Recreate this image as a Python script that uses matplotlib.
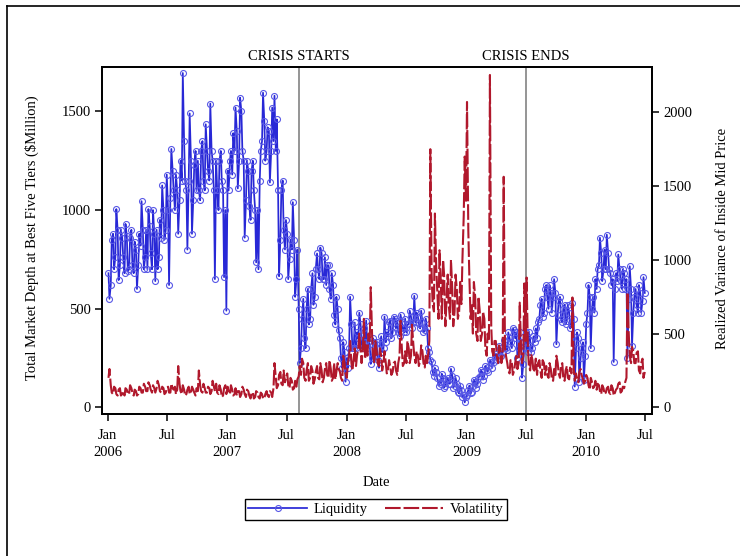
import matplotlib
matplotlib.use('Agg')
import matplotlib.pyplot as plt
from matplotlib.lines import Line2D
import pandas as pd

# ---------------- data: readings on Fridays (fri) and the preceding Tuesdays (mid) ----------------
liq_fri_2006 = [550, 850, 700, 1005, 645, 900, 760, 930, 690, 860, 720, 840, 600,
                880, 1045, 700, 900, 1005, 780, 1000, 640, 700, 950, 1125, 850, 1180,
                620, 1310, 1100, 1180, 880, 1250, 1695, 1150, 800, 1490, 880, 1230, 1100,
                1100, 1300, 1150, 1435, 1200, 1540, 1250, 650, 1100, 1250, 1150, 660, 490]
liq_mid_2006 = [680, 620, 880, 760, 900, 720, 860, 680, 870, 700, 900, 680, 800,
                720, 820, 900, 760, 700, 920, 700, 880, 900, 760, 860, 1000, 900,
                1000, 1060, 1200, 1000, 1100, 1050, 1150, 1350, 1100, 1150, 1250, 1050, 1300,
                1250, 1050, 1350, 1100, 1300, 1150, 1300, 1100, 1250, 1000, 1300, 1100, 1000]
liq_fri_2007 = [1100, 1300, 1390, 1520, 1110, 1570, 1300, 860, 1250, 1020, 1200, 1100, 735,
                700, 1300, 1595, 1250, 1420, 1140, 1520, 1580, 1460, 665, 1100, 900, 950,
                650, 850, 1040, 560, 800, 225, 450, 350, 500, 420, 600, 520, 700,
                700, 810, 650, 760, 720, 600, 680, 470, 560, 390, 250, 330, 130]
liq_mid_2007 = [1200, 1250, 1180, 1300, 1400, 1250, 1500, 1250, 1050, 1200, 950, 1250, 1000,
                1000, 1150, 1350, 1450, 1300, 1400, 1300, 1350, 1300, 1100, 850, 1150, 800,
                880, 750, 800, 850, 650, 500, 300, 550, 300, 600, 450, 680, 560,
                780, 650, 780, 650, 620, 720, 550, 620, 420, 500, 350, 200, 280]
liq_fri_2008 = [200, 560, 300, 430, 380, 480, 300, 400, 440, 330, 220, 350, 260,
                240, 320, 280, 460, 380, 430, 350, 460, 400, 380, 470, 400, 450,
                420, 490, 400, 565, 480, 420, 490, 380, 450, 300, 240, 180, 200,
                150, 130, 170, 100, 140, 120, 195, 100, 150, 80, 110, 50, 25]
liq_mid_2008 = [250, 300, 420, 300, 300, 350, 420, 300, 330, 300, 320, 250, 330,
                330, 200, 360, 300, 330, 360, 440, 380, 450, 440, 360, 430, 380,
                380, 420, 460, 430, 430, 460, 400, 430, 390, 400, 280, 230, 160,
                180, 110, 120, 150, 110, 150, 120, 160, 110, 120, 70, 90, 60]
liq_fri_2009 = [60, 110, 80, 140, 100, 150, 190, 140, 210, 180, 240, 200, 260,
                240, 310, 260, 340, 300, 380, 330, 400, 350, 250, 380, 150, 330,
                300, 380, 280, 360, 400, 430, 520, 460, 600, 560, 620, 480, 650,
                320, 540, 450, 500, 420, 520, 400, 530, 105, 380, 130, 300, 140]
liq_mid_2009 = [50, 90, 70, 110, 130, 120, 160, 180, 160, 190, 210, 230, 230,
                270, 250, 300, 280, 330, 290, 350, 300, 390, 380, 300, 330, 220,
                380, 280, 340, 300, 330, 350, 450, 550, 480, 620, 500, 580, 560,
                580, 470, 560, 430, 520, 440, 480, 420, 450, 300, 350, 250, 330]
liq_fri_2010 = [420, 620, 300, 560, 650, 700, 860, 640, 800, 875, 700, 620, 230,
                680, 775, 640, 700, 600, 250, 715, 310, 560, 520, 620, 480, 660]
liq_mid_2010 = [260, 480, 560, 500, 480, 600, 720, 780, 700, 700, 780, 680, 650,
                600, 640, 700, 600, 680, 650, 550, 600, 480, 600, 480, 580, 540, 580]

vol_fri_2006 = [260, 100, 140, 90, 120, 80, 110, 130, 90, 150, 100, 120, 80,
                140, 100, 160, 110, 170, 120, 150, 100, 180, 110, 140, 90, 130,
                100, 160, 120, 90, 280, 110, 150, 80, 120, 90, 140, 100, 130,
                250, 110, 160, 100, 140, 90, 180, 110, 100, 150, 70, 130, 90]
vol_mid_2006 = [200, 150, 90, 130, 80, 130, 90, 80, 120, 90, 130, 80, 110,
                90, 130, 100, 140, 110, 150, 100, 130, 130, 150, 100, 130, 100,
                140, 100, 130, 140, 120, 160, 90, 120, 90, 140, 100, 120, 80,
                110, 150, 100, 130, 100, 130, 110, 140, 160, 90, 120, 80, 150]
vol_fri_2007 = [100, 150, 80, 130, 110, 70, 140, 90, 120, 80, 100, 60, 110,
                70, 100, 60, 90, 80, 110, 70, 300, 130, 220, 160, 250, 200,
                150, 200, 120, 180, 190, 280, 330, 200, 250, 180, 280, 160, 240,
                200, 300, 170, 260, 220, 320, 180, 300, 240, 260, 200, 350, 230]
vol_mid_2007 = [140, 90, 120, 90, 80, 110, 90, 120, 70, 110, 60, 100, 70,
                100, 60, 90, 60, 110, 70, 100, 130, 200, 150, 240, 150, 170,
                230, 130, 180, 130, 140, 210, 220, 300, 180, 300, 200, 250, 190,
                280, 190, 250, 200, 300, 200, 260, 200, 190, 300, 240, 180, 300]
vol_fri_2008 = [300, 450, 250, 400, 350, 500, 300, 600, 420, 500, 815, 350, 450,
                300, 400, 250, 380, 230, 320, 220, 300, 250, 300, 587, 280, 380,
                450, 300, 560, 350, 380, 280, 420, 300, 350, 350, 1750, 700, 1314,
                800, 1065, 600, 900, 700, 700, 1000, 550, 900, 600, 850, 1000, 1700]
vol_mid_2008 = [200, 350, 300, 330, 280, 400, 380, 400, 330, 350, 450, 500, 300,
                380, 280, 350, 300, 300, 260, 270, 240, 310, 220, 350, 400, 300,
                300, 400, 350, 430, 300, 350, 320, 380, 270, 300, 450, 900, 650,
                950, 600, 850, 1000, 550, 900, 600, 800, 650, 800, 650, 700, 1300]
vol_fri_2009 = [2070, 900, 700, 850, 500, 750, 450, 650, 400, 500, 2253, 380, 450,
                350, 420, 300, 1563, 350, 250, 320, 220, 300, 260, 710, 300, 840,
                880, 280, 360, 240, 330, 300, 250, 320, 220, 220, 300, 190, 260,
                350, 230, 280, 200, 250, 200, 270, 745, 180, 190, 240, 220, 160]
vol_mid_2009 = [1400, 1200, 600, 500, 750, 450, 650, 500, 600, 350, 450, 550, 350,
                450, 300, 380, 350, 400, 300, 230, 300, 250, 350, 300, 400, 350,
                450, 400, 250, 320, 260, 220, 320, 200, 300, 280, 200, 260, 180,
                220, 300, 200, 300, 180, 280, 190, 230, 260, 230, 170, 260, 190]
vol_fri_2010 = [220, 150, 200, 130, 180, 160, 110, 150, 90, 130, 100, 150, 80,
                120, 160, 100, 140, 170, 780, 350, 410, 300, 370, 250, 300, 200]
vol_mid_2010 = [180, 200, 120, 170, 140, 120, 150, 90, 130, 100, 140, 90, 130,
                100, 130, 170, 110, 130, 200, 500, 300, 380, 300, 380, 230, 330, 240]

crisis_dates = ['2007-08-09', '2009-07-01']
crisis_labels = ['CRISIS STARTS', 'CRISIS ENDS']
xtick_labels = ['Jan\n2006', 'Jul', 'Jan\n2007', 'Jul', 'Jan\n2008', 'Jul',
                'Jan\n2009', 'Jul', 'Jan\n2010', 'Jul']
left_ticks = [0, 500, 1000, 1500]
right_ticks = [0, 500, 1000, 1500, 2000]

fri_dates = pd.date_range('2006-01-06', '2010-06-25', freq='W-FRI')
mid_dates = pd.date_range('2006-01-03', '2010-06-29', freq='W-TUE')
liq_fri = liq_fri_2006 + liq_fri_2007 + liq_fri_2008 + liq_fri_2009 + liq_fri_2010
liq_mid = liq_mid_2006 + liq_mid_2007 + liq_mid_2008 + liq_mid_2009 + liq_mid_2010
vol_fri = vol_fri_2006 + vol_fri_2007 + vol_fri_2008 + vol_fri_2009 + vol_fri_2010
vol_mid = vol_mid_2006 + vol_mid_2007 + vol_mid_2008 + vol_mid_2009 + vol_mid_2010
assert len(fri_dates) == len(liq_fri) == len(vol_fri)
assert len(mid_dates) == len(liq_mid) == len(vol_mid)

df = pd.concat([
    pd.DataFrame({'date': fri_dates, 'liq': liq_fri, 'vol': vol_fri}),
    pd.DataFrame({'date': mid_dates, 'liq': liq_mid, 'vol': vol_mid}),
]).sort_values('date')
xtick_dates = pd.date_range('2006-01-01', '2010-07-01', freq='6MS')

# ---------------- style ----------------
plt.rcParams['font.family'] = ['Liberation Serif', 'DejaVu Serif']
plt.rcParams['font.size'] = 10.5
BLUE = '#2828d6'
MARK = '#5858e6'
RED = '#b0182c'
FS = 10.5

fig = plt.figure(figsize=(7.4, 5.56), dpi=100)
W, H = 740, 556
L, R, T, B = 101.6, 652, 67, 414
ax = fig.add_axes([L / W, 1 - B / H, (R - L) / W, (B - T) / H])
ax2 = ax.twinx()

ax.plot(df['date'], df['liq'], color=BLUE, lw=1.25, marker='o', ms=4.3,
        mfc='none', mec=MARK, mew=0.8, zorder=3, label='Liquidity')
ax2.plot(df['date'], df['vol'], color=RED, lw=1.5, linestyle=(0, (7.5, 1.4)),
         zorder=3, label='Volatility')

for d in crisis_dates:
    ax.axvline(pd.Timestamp(d), color='#8c8c8c', lw=1.3, zorder=2)
for d, lab in zip(crisis_dates, crisis_labels):
    ax.text(pd.Timestamp(d), 1.012, lab, transform=ax.get_xaxis_transform(),
            ha='center', va='bottom', fontsize=FS)

ax.set_xlim(pd.Timestamp('2005-12-13'), pd.Timestamp('2010-07-21'))
ax.set_ylim(-34, 1725.6)
ax2.set_ylim(-45, 2307)
ax.set_xticks(xtick_dates)
ax.set_xticklabels(xtick_labels)
for lbl in ax.get_xticklabels():
    lbl.set_linespacing(1.35)
ax.set_yticks(left_ticks)
ax2.set_yticks(right_ticks)

for a in (ax, ax2):
    for s in a.spines.values():
        s.set_linewidth(1.3)
        s.set_color('black')
    a.tick_params(direction='out', length=5, width=1.1, labelsize=FS, pad=3)
ax.tick_params(axis='x', pad=6)

fig.text(376 / W, 1 - 483 / H, 'Date', ha='center', va='center', fontsize=FS)
fig.text(32 / W, 1 - 238 / H, 'Total Market Depth at Best Five Tiers (\\$Million)',
         rotation=90, ha='center', va='center', fontsize=FS)
fig.text(722 / W, 1 - 238 / H, 'Realized Variance of Inside Mid Price',
         rotation=90, ha='center', va='center', fontsize=FS)

h1, l1 = ax.get_legend_handles_labels()
h2, l2 = ax2.get_legend_handles_labels()
leg = fig.legend(h1 + h2, l1 + l2, loc='center', ncol=2,
                 bbox_to_anchor=(376 / W, 1 - 509.5 / H), frameon=True,
                 fancybox=False, edgecolor='black', framealpha=1,
                 handlelength=4.0, columnspacing=1.2, handletextpad=0.45,
                 borderpad=0.25, fontsize=FS, numpoints=1)
leg.get_frame().set_linewidth(1.0)

# figure frame (left and top edges visible)
fig.add_artist(Line2D([7.3 / W, 7.3 / W], [0, 1 - 5.5 / H], color='black', lw=1.2,
                      transform=fig.transFigure))
fig.add_artist(Line2D([7.3 / W, 1], [1 - 5.5 / H, 1 - 5.5 / H], color='black', lw=1.2,
                      transform=fig.transFigure))

fig.savefig('out.png', dpi=100)
